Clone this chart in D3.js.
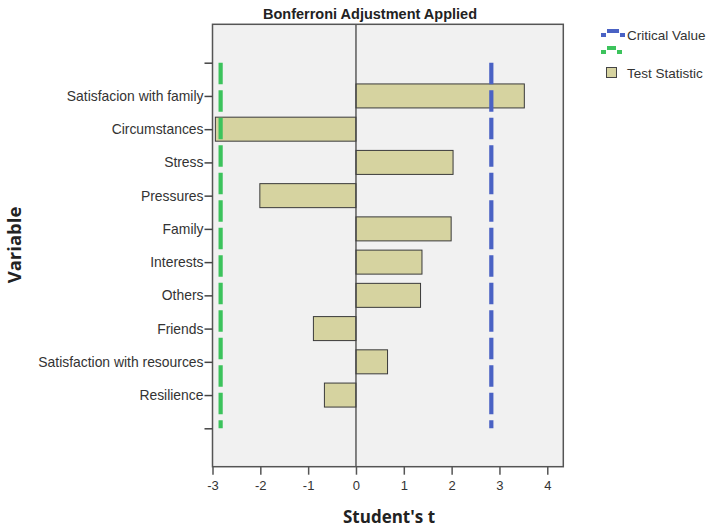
<!DOCTYPE html>
<html><head><meta charset="utf-8">
<script src="https://cdn.jsdelivr.net/npm/d3@7"></script>
<style>body{margin:0;background:#fff}svg{display:block}</style>
</head><body>
<svg id="c" width="708" height="529"></svg>
<script>
const categories = ["Satisfacion with family","Circumstances","Stress","Pressures","Family","Interests","Others","Friends","Satisfaction with resources","Resilience"];
const testStatistic = [3.52,-2.94,2.03,-2.01,1.99,1.38,1.35,-0.89,0.66,-0.66];
const criticalValues = [2.83,-2.83];
const xTicks = [-3,-2,-1,0,1,2,3,4];

const svg = d3.select("#c");
const L=212.5, R=563.3, T=24.3, B=466.7;
const x = d3.scaleLinear().domain([-3,4.335]).range([L,R]);
const yDomain = ["__top", ...categories, "__bot"];
const y = d3.scalePoint().domain(yDomain).range([62.7,428.3]);
const font = "'Liberation Sans', Arial, sans-serif";

svg.append("rect").attr("x",L).attr("y",T).attr("width",R-L).attr("height",B-T)
  .attr("fill","#f1f1f1");

// bars
const bh = 24;
svg.append("g").selectAll("rect").data(categories).join("rect")
  .attr("x",(d,i)=>x(Math.min(0,testStatistic[i])))
  .attr("y",d=>y(d)-bh/2)
  .attr("width",(d,i)=>Math.abs(x(testStatistic[i])-x(0)))
  .attr("height",bh)
  .attr("fill","#d6d3a0").attr("stroke","#3a3a3a").attr("stroke-width",1);

// zero line
svg.append("line").attr("x1",x(0)).attr("x2",x(0)).attr("y1",T).attr("y2",B)
  .attr("stroke","#444").attr("stroke-width",1.3);

// critical lines
const cvColors = ["#4a62c4","#3cc35c"];
svg.append("g").selectAll("line").data(criticalValues).join("line")
  .attr("x1",d=>x(d)).attr("x2",d=>x(d))
  .attr("y1",y("__top")).attr("y2",y("__bot"))
  .attr("stroke",(d,i)=>cvColors[i]).attr("stroke-width",4.2)
  .attr("stroke-dasharray","21.5,6");

// border
svg.append("rect").attr("x",L).attr("y",T).attr("width",R-L).attr("height",B-T)
  .attr("fill","none").attr("stroke","#555").attr("stroke-width",1.5);

// x axis
const xa = svg.append("g").attr("transform",`translate(0,${B})`)
  .call(d3.axisBottom(x).tickValues(xTicks).tickSize(8).tickPadding(6).tickFormat(d=>String(d)));
xa.select(".domain").remove();
xa.selectAll("line").attr("stroke","#555").attr("stroke-width",1.5);
xa.selectAll("text").attr("font-family",font).attr("font-size",13).attr("fill","#333");

// y axis
const ya = svg.append("g").attr("transform",`translate(${L},0)`)
  .call(d3.axisLeft(y).tickSize(8).tickPadding(1).tickFormat(d=>d.startsWith("__")?"":d));
ya.select(".domain").remove();
ya.selectAll("line").attr("stroke","#444").attr("stroke-width",1.5);
ya.selectAll("text").attr("font-family",font).attr("font-size",13.9).attr("fill","#333");

// titles
svg.append("text").attr("x",370).attr("y",19).attr("text-anchor","middle")
  .attr("font-family",font).attr("font-weight","bold").attr("font-size",14.5).attr("fill","#222")
  .text("Bonferroni Adjustment Applied");
svg.append("text").attr("x",389).attr("y",523).attr("text-anchor","middle")
  .attr("font-family","'Open Sans', sans-serif").attr("font-weight","bold").attr("font-size",17).attr("fill","#222")
  .text("Student's t");
svg.append("text").attr("transform","translate(21,245) rotate(-90)").attr("text-anchor","middle")
  .attr("font-family","'Open Sans', sans-serif").attr("font-weight","bold").attr("font-size",18.5).attr("fill","#222")
  .text("Variable");

// legend
const lg = svg.append("g");
function icon(y0, col, midW){
  lg.append("rect").attr("x",601).attr("y",y0+2).attr("width",5).attr("height",4).attr("fill",col);
  lg.append("rect").attr("x",607).attr("y",y0-2).attr("width",midW).attr("height",4).attr("fill",col);
  lg.append("rect").attr("x",608+midW).attr("y",y0+2).attr("width",5).attr("height",4).attr("fill",col);
}
icon(31, cvColors[0], 12);
icon(48, cvColors[1], 9);
lg.append("text").attr("x",627).attr("y",40).attr("font-family",font).attr("font-size",13.5).attr("fill","#333").text("Critical Value");
lg.append("rect").attr("x",606.5).attr("y",67.5).attr("width",10).attr("height",10).attr("fill","#d6d3a0").attr("stroke","#444");
lg.append("text").attr("x",627).attr("y",78).attr("font-family",font).attr("font-size",13.5).attr("fill","#333").text("Test Statistic");
</script>
</body></html>
